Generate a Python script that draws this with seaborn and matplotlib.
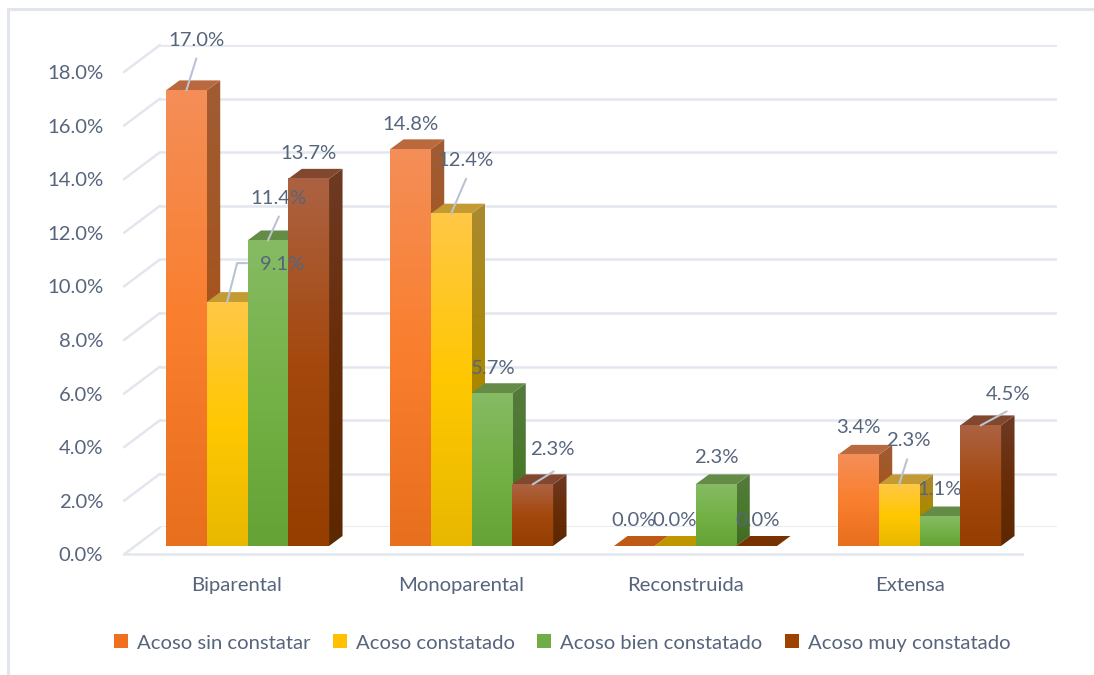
import numpy as np
import pandas as pd
import matplotlib
matplotlib.use("Agg")
import matplotlib.pyplot as plt
from matplotlib.lines import Line2D
from matplotlib.patches import Polygon, Rectangle
from matplotlib.colors import LinearSegmentedColormap
from matplotlib.transforms import IdentityTransform
import seaborn as sns

# ---- data ----
categories = ["Biparental", "Monoparental", "Reconstruida", "Extensa"]
series_names = ["Acoso sin constatar", "Acoso constatado", "Acoso bien constatado", "Acoso muy constatado"]
sin_constatar = [17.0, 14.8, 0.0, 3.4]
constatado = [9.1, 12.4, 0.0, 2.3]
bien_constatado = [11.4, 5.7, 2.3, 1.1]
muy_constatado = [13.7, 2.3, 0.0, 4.5]
y_ticks = [0, 2, 4, 6, 8, 10, 12, 14, 16, 18]

# ---- style ----
W, H = 1094, 675
TEXT = "#56657C"
GRID = "#E3E6EE"
LEADER = "#B9C3D2"
base_colors = ["#F07020", "#FFC000", "#70AD47", "#9E4200"]
front_grads = [["#F48E58", "#FA7F2E", "#E86F1E"],
               ["#FFC746", "#FFC800", "#E8B800"],
               ["#86BB64", "#74B146", "#65A336"],
               ["#AC6242", "#A4480E", "#953E00"]]
side_grads = [["#A05C33", "#A5541D", "#9C4E14"],
              ["#A98A30", "#AC8800", "#9C7C00"],
              ["#55793F", "#4A7A2C", "#3F6A22"],
              ["#6E3A24", "#682D08", "#5C2800"]]
top_colors = ["#B9693D", "#C49B32", "#648C47", "#82482F"]
flat_colors = ["#BE5A16", "#BE9600", "#527F30", "#783200"]
DEPTH_X_PX, DEPTH_Y_PX = 13.5, 10.0

# label offsets from the top-centre of each bar, in pixels (x right, y up)
label_offsets = {
    (0, 0): (10, 50), (0, 1): (55, 38), (0, 2): (11, 42), (0, 3): (0, 25),
    (1, 0): (0, 25), (1, 1): (14, 53), (1, 2): (1, 25), (1, 3): (20, 35),
    (2, 0): (-1, 26), (2, 1): (0, 26), (2, 2): (0, 27), (2, 3): (1, 26),
    (3, 0): (0, 27), (3, 1): (9, 44), (3, 2): (0, 27), (3, 3): (27, 31),
}
leaders = {
    (0, 0): [(0, 0), (10, 32)],
    (0, 1): [(0, 0), (10, 39), (20, 39)],
    (0, 2): [(0, 0), (11, 24)],
    (1, 1): [(0, 0), (15, 35)],
    (1, 3): [(0, 0), (21, 13)],
    (3, 1): [(0, 0), (8, 25)],
    (3, 3): [(0, 0), (26, 14)],
}

sns.set_theme(style="white")
plt.rcParams["font.family"] = ["Lato", "DejaVu Sans"]
FS = 14.6


def box(x0, x1, ytop, ybot):
    return [x0 / W, 1 - ybot / H, (x1 - x0) / W, (ybot - ytop) / H]


fig = plt.figure(figsize=(W / 100, H / 100), dpi=100, facecolor="white")

# outer frame
fig.add_artist(Rectangle((8 / W, -0.02), 1.1, 1 - 9 / H + 0.02, transform=fig.transFigure,
                         fill=False, edgecolor="#E0E5EE", lw=2.2))

# back wall with gridlines
ax_back = fig.add_axes(box(160, 1057, 45, 527.4), facecolor="none")
ax_back.set_ylim(0, 18)
ax_back.set_xlim(0, 1)
ax_back.set_yticks(y_ticks)
ax_back.set_xticks([])
ax_back.tick_params(left=False, labelleft=False)
ax_back.grid(axis="y", color=GRID, lw=1.8)
sns.despine(ax=ax_back, left=True, bottom=True)

# front plane: tick labels and floor edge
ax_front = fig.add_axes(box(124, 1022, 72, 554.4), facecolor="none")
ax_front.set_ylim(0, 18)
ax_front.set_xlim(-0.5, 3.5)
ax_front.set_yticks(y_ticks)
ax_front.set_yticklabels([f"{t:.1f}%" for t in y_ticks], fontsize=FS, color=TEXT)
ax_front.set_xticks(range(4))
ax_front.set_xticklabels(categories, fontsize=FS, color=TEXT)
ax_front.tick_params(axis="y", length=0, pad=15)
ax_front.tick_params(axis="x", length=0, pad=16)
sns.despine(ax=ax_front, left=True, top=True, right=True)
ax_front.spines["bottom"].set_color(GRID)
ax_front.spines["bottom"].set_linewidth(1.8)
ax_front.grid(False)

# left-wall diagonals
for t in y_ticks:
    xa, ya = ax_front.transData.transform((-0.5, t))
    xb, yb = ax_back.transAxes.transform((0, 0))[0], ax_back.transData.transform((0, t))[1]
    fig.add_artist(Line2D([xa, xb], [ya, yb], transform=IdentityTransform(), color=GRID, lw=1.8, zorder=1))

# bars
ax = fig.add_axes(box(135.5, 1031.5, 63.6, 546), facecolor="none")
df = pd.DataFrame({
    "categoria": categories * 4,
    "serie": np.repeat(series_names, 4),
    "valor": sin_constatar + constatado + bien_constatado + muy_constatado,
})
sns.barplot(data=df, x="categoria", y="valor", hue="serie", hue_order=series_names,
            order=categories, palette=base_colors, width=0.728, dodge=True, gap=0,
            errorbar=None, saturation=1, ax=ax, linewidth=0, legend=True)
ax.set_xlim(-0.5, 3.5)
ax.set_ylim(0, 18)
ax.axis("off")
fig.canvas.draw()

dx = DEPTH_X_PX / (896 / 4)
dy = DEPTH_Y_PX / (482.4 / 18)


def gradient(colors):
    cmap = LinearSegmentedColormap.from_list("g", colors)
    return cmap(np.linspace(0, 1, 128))[:, None, :]


containers = ax.containers
z = 3
tops = {}
for c in range(4):
    for s, cont in enumerate(containers):
        bar = cont.patches[c]
        x0, w, h = bar.get_x(), bar.get_width(), bar.get_height()
        x1 = x0 + w
        bar.set_visible(False)
        tops[(c, s)] = (x0 + w / 2, h)
        if h <= 0:
            ax.add_patch(Polygon([(x0, 0), (x1, 0), (x1 + dx, dy), (x0 + dx, dy)],
                                 facecolor=flat_colors[s], edgecolor="none", zorder=z))
            z += 1
            continue
        # side face
        im = ax.imshow(gradient(side_grads[s]), extent=[x1, x1 + dx, 0, h + dy],
                       aspect="auto", origin="upper", zorder=z, interpolation="bilinear")
        clip = Polygon([(x1, 0), (x1 + dx, dy), (x1 + dx, h + dy), (x1, h)], transform=ax.transData,
                       facecolor="none", edgecolor="none")
        ax.add_patch(clip)
        im.set_clip_path(clip)
        # top face
        ax.add_patch(Polygon([(x0, h), (x1, h), (x1 + dx, h + dy), (x0 + dx, h + dy)],
                             facecolor=top_colors[s], edgecolor="none", zorder=z + 0.1))
        # front face
        ax.imshow(gradient(front_grads[s]), extent=[x0, x1, 0, h], aspect="auto",
                  origin="upper", zorder=z + 0.2, interpolation="bilinear")
        z += 1
ax.set_xlim(-0.5, 3.5)
ax.set_ylim(0, 18)

# data labels and leader lines
fmt = {0: sin_constatar, 1: constatado, 2: bien_constatado, 3: muy_constatado}
for (c, s), (xc, h) in tops.items():
    px, py = ax.transData.transform((xc, h))
    ox, oy = label_offsets[(c, s)]
    if (c, s) in leaders:
        pts = leaders[(c, s)]
        ax.add_line(Line2D([px + p[0] for p in pts], [py + p[1] for p in pts],
                           transform=IdentityTransform(), color=LEADER, lw=1.5, zorder=80, clip_on=False))
    ax.text(px + ox, py + oy, f"{fmt[s][c]:.1f}%", transform=IdentityTransform(), ha="center", va="center",
            fontsize=FS, color=TEXT, zorder=90, clip_on=False)

# legend
handles, labels = ax.get_legend_handles_labels()
ax.get_legend().remove()
handles = [Rectangle((0, 0), 1, 1, facecolor=col, edgecolor="none") for col in base_colors]
leg = fig.legend(handles, series_names, loc="center", bbox_to_anchor=(562 / W, 1 - 643 / H), ncol=4,
                 frameon=False, fontsize=FS, labelcolor=TEXT, handlelength=0.69, handleheight=0.69,
                 handletextpad=0.45, columnspacing=1.1)

fig.savefig("out.png", dpi=100)
